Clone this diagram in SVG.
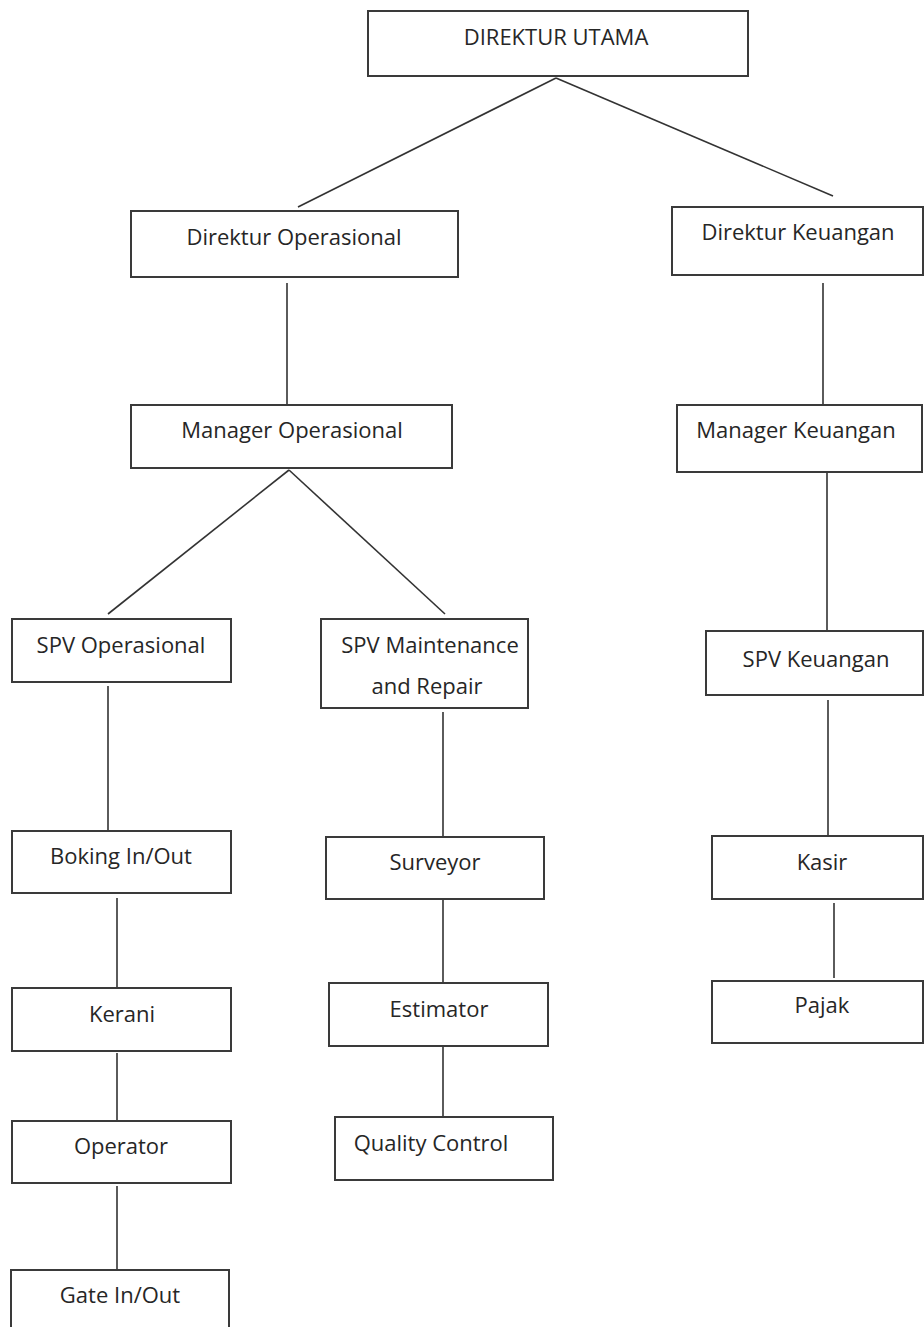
<svg xmlns="http://www.w3.org/2000/svg" width="924" height="1327" viewBox="0 0 924 1327">
<style>
.box{fill:#fff;stroke:#3a3a3a;stroke-width:2}
.lbl{font-family:"Open Sans","Noto Sans","Liberation Sans",sans-serif;font-size:22px;fill:#262626;text-anchor:middle}
.con line{stroke:#333;stroke-width:1.6}
</style>
<rect width="924" height="1327" fill="#fff"/>
<g class="con" id="connectors">
<line x1="556" y1="78" x2="298" y2="207"/>
<line x1="556" y1="78" x2="833" y2="196"/>
<line x1="287" y1="283" x2="287" y2="405"/>
<line x1="823" y1="283" x2="823" y2="405"/>
<line x1="289" y1="470" x2="108" y2="614"/>
<line x1="289" y1="470" x2="445" y2="614"/>
<line x1="827" y1="472" x2="827" y2="630"/>
<line x1="108" y1="686" x2="108" y2="831"/>
<line x1="443" y1="712" x2="443" y2="837"/>
<line x1="828" y1="700" x2="828" y2="836"/>
<line x1="117" y1="898" x2="117" y2="988"/>
<line x1="117" y1="1053" x2="117" y2="1121"/>
<line x1="117" y1="1186" x2="117" y2="1270"/>
<line x1="443" y1="900" x2="443" y2="983"/>
<line x1="443" y1="1046" x2="443" y2="1117"/>
<line x1="834" y1="903" x2="834" y2="978"/>
</g>
<g id="direktur-utama"><rect class="box" x="368" y="11" width="380" height="65"/><text class="lbl" x="556" y="45">DIREKTUR UTAMA</text></g>
<g id="direktur-operasional"><rect class="box" x="131" y="211" width="327" height="66"/><text class="lbl" x="294" y="245">Direktur Operasional</text></g>
<g id="direktur-keuangan"><rect class="box" x="672" y="207" width="251" height="68"/><text class="lbl" x="798" y="240">Direktur Keuangan</text></g>
<g id="manager-operasional"><rect class="box" x="131" y="405" width="321" height="63"/><text class="lbl" x="292" y="438">Manager Operasional</text></g>
<g id="manager-keuangan"><rect class="box" x="677" y="405" width="245" height="67"/><text class="lbl" x="796" y="438">Manager Keuangan</text></g>
<g id="spv-operasional"><rect class="box" x="12" y="619" width="219" height="63"/><text class="lbl" x="121" y="653">SPV Operasional</text></g>
<g id="spv-maintenance"><rect class="box" x="321" y="619" width="207" height="89"/><text class="lbl" x="430" y="653">SPV Maintenance</text><text class="lbl" x="427" y="694">and Repair</text></g>
<g id="spv-keuangan"><rect class="box" x="706" y="631" width="217" height="64"/><text class="lbl" x="816" y="667">SPV Keuangan</text></g>
<g id="boking"><rect class="box" x="12" y="831" width="219" height="62"/><text class="lbl" x="121" y="864">Boking In/Out</text></g>
<g id="surveyor"><rect class="box" x="326" y="837" width="218" height="62"/><text class="lbl" x="435" y="870">Surveyor</text></g>
<g id="kasir"><rect class="box" x="712" y="836" width="211" height="63"/><text class="lbl" x="822" y="870">Kasir</text></g>
<g id="kerani"><rect class="box" x="12" y="988" width="219" height="63"/><text class="lbl" x="122" y="1022">Kerani</text></g>
<g id="estimator"><rect class="box" x="329" y="983" width="219" height="63"/><text class="lbl" x="439" y="1017">Estimator</text></g>
<g id="pajak"><rect class="box" x="712" y="981" width="211" height="62"/><text class="lbl" x="822" y="1013">Pajak</text></g>
<g id="operator"><rect class="box" x="12" y="1121" width="219" height="62"/><text class="lbl" x="121" y="1154">Operator</text></g>
<g id="quality-control"><rect class="box" x="335" y="1117" width="218" height="63"/><text class="lbl" x="431" y="1151">Quality Control</text></g>
<g id="gate"><rect class="box" x="11" y="1270" width="218" height="70"/><text class="lbl" x="120" y="1303">Gate In/Out</text></g>
</svg>
